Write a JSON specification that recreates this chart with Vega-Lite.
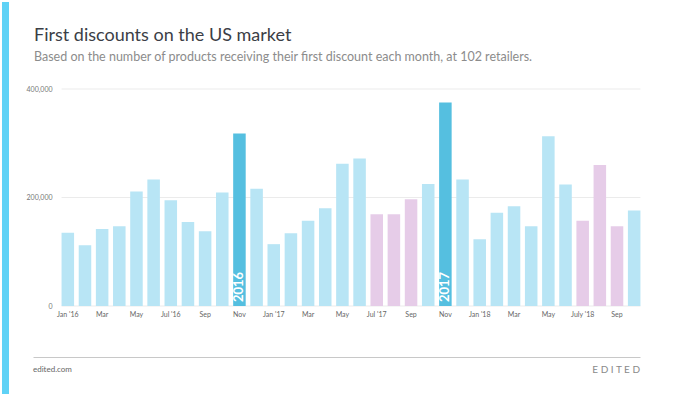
{
  "$schema": "https://vega.github.io/schema/vega-lite/v6.json",
  "padding": {"left": 2, "top": 2, "right": 0, "bottom": 0},
  "background": "white",
  "config": {"view": {"stroke": null}, "font": "Lato"},
  "columns": 2,
  "spacing": 17,
  "concat": [
    {
      "width": 7,
      "height": 392,
      "data": {"values": [{"s": 1}]},
      "mark": {"type": "rect", "color": "#5fd2f6"},
      "encoding": {}
    },
    {
      "columns": 1,
      "spacing": 40,
      "concat": [
        {
          "columns": 1,
          "spacing": 21,
          "concat": [
            {
              "width": 610,
              "height": 0,
              "data": {"values": [{"s": 1}]},
              "mark": {"type": "rect", "opacity": 0},
              "encoding": {},
              "title": {
                "text": "First discounts on the US market",
                "subtitle": "Based on the number of products receiving their first discount each month, at 102 retailers.",
                "orient": "bottom",
                "anchor": "start",
                "fontSize": 18,
                "fontWeight": "normal",
                "color": "#3b3e46",
                "subtitleFontSize": 12.5,
                "subtitleColor": "#8c8c8c",
                "subtitlePadding": 6,
                "dx": 1,
                "offset": 5
              }
            },
            {
              "width": 610,
              "height": 217,
              "data": {
                "values": [
                  {"month": "Jan '16", "products": 135000, "type": "normal"},
                  {"month": "Feb '16", "products": 112000, "type": "normal"},
                  {"month": "Mar '16", "products": 142000, "type": "normal"},
                  {"month": "Apr '16", "products": 147000, "type": "normal"},
                  {"month": "May '16", "products": 211000, "type": "normal"},
                  {"month": "Jun '16", "products": 233000, "type": "normal"},
                  {"month": "Jul '16", "products": 195000, "type": "normal"},
                  {"month": "Aug '16", "products": 155000, "type": "normal"},
                  {"month": "Sep '16", "products": 138000, "type": "normal"},
                  {"month": "Oct '16", "products": 209000, "type": "normal"},
                  {"month": "Nov '16", "products": 318000, "type": "highlight", "year": "2016"},
                  {"month": "Dec '16", "products": 216000, "type": "normal"},
                  {"month": "Jan '17", "products": 114000, "type": "normal"},
                  {"month": "Feb '17", "products": 134000, "type": "normal"},
                  {"month": "Mar '17", "products": 157000, "type": "normal"},
                  {"month": "Apr '17", "products": 180000, "type": "normal"},
                  {"month": "May '17", "products": 262000, "type": "normal"},
                  {"month": "Jun '17", "products": 272000, "type": "normal"},
                  {"month": "Jul '17", "products": 169000, "type": "summer"},
                  {"month": "Aug '17", "products": 169000, "type": "summer"},
                  {"month": "Sep '17", "products": 197000, "type": "summer"},
                  {"month": "Oct '17", "products": 225000, "type": "normal"},
                  {"month": "Nov '17", "products": 375000, "type": "highlight", "year": "2017"},
                  {"month": "Dec '17", "products": 233000, "type": "normal"},
                  {"month": "Jan '18", "products": 123000, "type": "normal"},
                  {"month": "Feb '18", "products": 172000, "type": "normal"},
                  {"month": "Mar '18", "products": 184000, "type": "normal"},
                  {"month": "Apr '18", "products": 147000, "type": "normal"},
                  {"month": "May '18", "products": 313000, "type": "normal"},
                  {"month": "Jun '18", "products": 224000, "type": "normal"},
                  {"month": "July '18", "products": 157000, "type": "summer"},
                  {"month": "Aug '18", "products": 260000, "type": "summer"},
                  {"month": "Sep '18", "products": 147000, "type": "summer"},
                  {"month": "Oct '18", "products": 176000, "type": "normal"}
                ]
              },
              "layer": [
                {
                  "data": {"values": [{"g": 0}, {"g": 200000}, {"g": 400000}]},
                  "mark": {"type": "rule", "color": "#ebebeb", "strokeWidth": 1},
                  "encoding": {
                    "x": {"datum": "Jan '16", "type": "nominal", "bandPosition": 0},
                    "x2": {"datum": "Oct '18", "bandPosition": 1},
                    "y": {"field": "g", "type": "quantitative"}
                  }
                },
                {
                  "mark": {"type": "bar"},
                  "encoding": {
                    "x": {"field": "month", "type": "nominal"},
                    "y": {"field": "products", "type": "quantitative"},
                    "color": {
                      "field": "type",
                      "type": "nominal",
                      "scale": {"domain": ["normal", "highlight", "summer"], "range": ["#b8e5f5", "#55bfe0", "#e6cce8"]},
                      "legend": null
                    }
                  }
                },
                {
                  "transform": [{"filter": "datum.year != null"}],
                  "mark": {"type": "text", "angle": 270, "align": "left", "baseline": "middle", "dx": 4, "fontSize": 13, "fontWeight": "bold", "color": "white"},
                  "encoding": {
                    "x": {"field": "month", "type": "nominal"},
                    "y": {"datum": 0, "type": "quantitative"},
                    "text": {"field": "year"}
                  }
                }
              ],
              "encoding": {
                "x": {
                  "field": "month",
                  "type": "nominal",
                  "sort": null,
                  "scale": {
                    "domain": ["Jan '16", "Feb '16", "Mar '16", "Apr '16", "May '16", "Jun '16", "Jul '16", "Aug '16", "Sep '16", "Oct '16", "Nov '16", "Dec '16", "Jan '17", "Feb '17", "Mar '17", "Apr '17", "May '17", "Jun '17", "Jul '17", "Aug '17", "Sep '17", "Oct '17", "Nov '17", "Dec '17", "Jan '18", "Feb '18", "Mar '18", "Apr '18", "May '18", "Jun '18", "July '18", "Aug '18", "Sep '18", "Oct '18"],
                    "paddingInner": 0.27,
                    "paddingOuter": 0.9066,
                    "align": 0.9175
                  },
                  "axis": {
                    "title": null,
                    "values": ["Jan '16", "Mar '16", "May '16", "Jul '16", "Sep '16", "Nov '16", "Jan '17", "Mar '17", "May '17", "Jul '17", "Sep '17", "Nov '17", "Jan '18", "Mar '18", "May '18", "July '18", "Sep '18"],
                    "labelExpr": "test(/^(Jan|Jul)/, datum.value) ? datum.value : slice(datum.value, 0, 3)",
                    "labelAngle": 0,
                    "labelFontSize": 7,
                    "labelColor": "#666666",
                    "labelPadding": 4,
                    "ticks": false,
                    "domain": false,
                    "grid": false
                  }
                },
                "y": {
                  "field": "products",
                  "type": "quantitative",
                  "scale": {"domain": [0, 400000]},
                  "axis": {
                    "title": null,
                    "values": [0, 200000, 400000],
                    "format": ",d",
                    "labelFontSize": 7,
                    "labelColor": "#777777",
                    "labelPadding": 7,
                    "offset": -26,
                    "ticks": false,
                    "domain": false,
                    "grid": false
                  }
                }
              }
            }
          ]
        },
        {
          "width": 607,
          "height": 26,
          "data": {"values": [{"side": "left", "t": "edited.com"}, {"side": "right", "t": "E D I T E D"}]},
          "encoding": {
            "x": {
              "field": "side",
              "type": "ordinal",
              "scale": {"type": "point", "padding": 0, "domain": ["left", "right"]},
              "axis": {"orient": "top", "title": null, "labels": false, "ticks": false, "grid": false, "domain": true, "domainColor": "#c8c8c8", "domainWidth": 1}
            },
            "text": {"field": "t"}
          },
          "layer": [
            {
              "transform": [{"filter": "datum.side == 'left'"}],
              "mark": {"type": "text", "align": "left", "baseline": "middle", "fontSize": 8, "color": "#666666"}
            },
            {
              "transform": [{"filter": "datum.side == 'right'"}],
              "mark": {"type": "text", "align": "right", "baseline": "middle", "fontSize": 10, "color": "#8a8a8a"}
            }
          ]
        }
      ]
    }
  ]
}
